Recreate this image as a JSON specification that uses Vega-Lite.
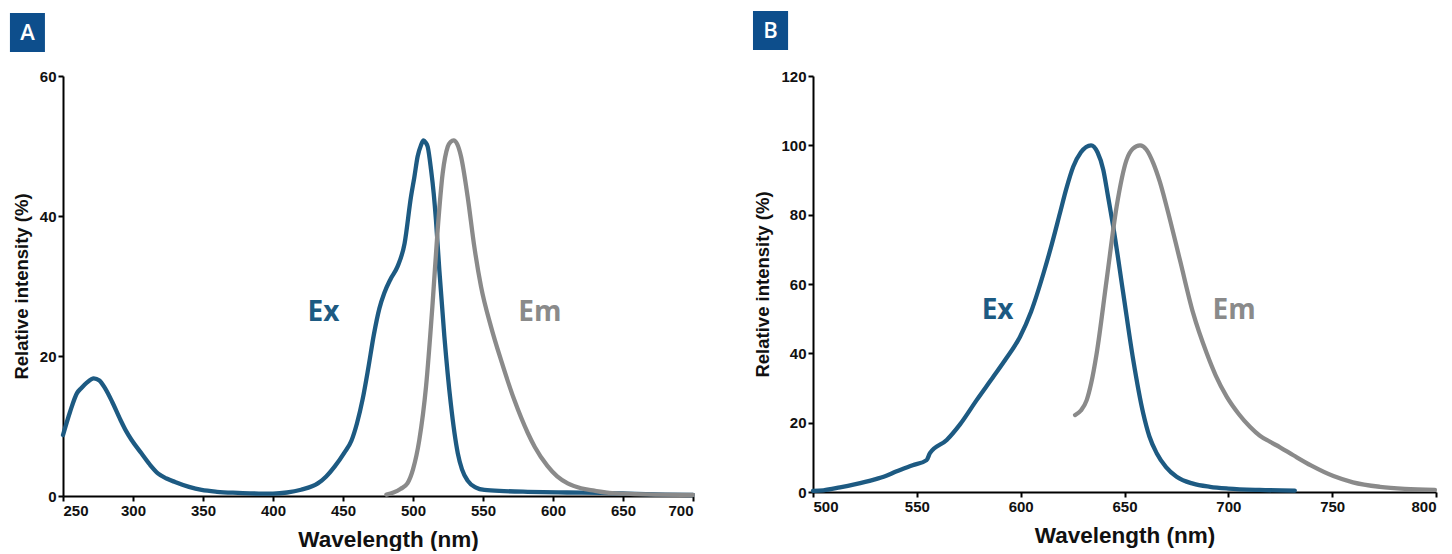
{
  "$schema": "https://vega.github.io/schema/vega-lite/v6.json",
  "background": "white",
  "padding": {"left": 9, "top": 11, "right": 5, "bottom": 0},
  "spacing": 56,
  "config": {
    "view": {"stroke": null},
    "axis": {
      "grid": false,
      "domainColor": "#000000",
      "domainWidth": 2,
      "tickColor": "#000000",
      "tickWidth": 2,
      "tickSize": 5,
      "labelFont": "Liberation Sans",
      "labelFontWeight": "bold",
      "labelFontSize": 15,
      "labelColor": "#111111",
      "labelPadding": 2,
      "titleFont": "Liberation Sans",
      "titleFontWeight": "bold",
      "titleColor": "#111111"
    },
    "axisX": {"titleFontSize": 22.5, "titlePadding": 10},
    "axisY": {"titleFontSize": 18.5, "titlePadding": 8}
  },
  "hconcat": [
    {
      "width": 630,
      "height": 420,
      "encoding": {
        "x": {"field": "nm", "type": "quantitative", "scale": {"domain": [250, 700], "nice": false, "zero": false},
              "axis": {"title": "Wavelength (nm)", "titleX": 325, "values": [250, 300, 350, 400, 450, 500, 550, 600, 650, 700]}},
        "y": {"field": "val", "type": "quantitative", "scale": {"domain": [0, 60], "nice": false},
              "axis": {"title": "Relative intensity (%)", "values": [0, 20, 40, 60]}}
      },
      "layer": [
        {
          "data": {"values": [{"nm": 212.1, "nm2": 237.1, "val": 69, "val2": 63.43}]},
          "mark": {"type": "rect", "color": "#0d4e8c"},
          "encoding": {"x2": {"field": "nm2"}, "y2": {"field": "val2"}}
        },
        {
          "data": {"values": [{"nm": 224.6, "val": 66.2, "label": "A"}]},
          "mark": {"type": "text", "color": "#ffffff", "font": "Open Sans", "fontSize": 22, "fontWeight": 600, "align": "center", "baseline": "middle"},
          "encoding": {"text": {"field": "label"}}
        },
        {
          "data": {"values": [
            {"series":"Ex","nm":250,"val":8.7},{"series":"Ex","nm":255,"val":12},{"series":"Ex","nm":260,"val":14.7},{"series":"Ex","nm":263,"val":15.4},
            {"series":"Ex","nm":267,"val":16.2},{"series":"Ex","nm":272,"val":16.8},{"series":"Ex","nm":276,"val":16.5},{"series":"Ex","nm":280,"val":15.4},
            {"series":"Ex","nm":285,"val":13.5},{"series":"Ex","nm":291,"val":10.9},{"series":"Ex","nm":295,"val":9.3},{"series":"Ex","nm":299,"val":8.0},
            {"series":"Ex","nm":306,"val":6.1},{"series":"Ex","nm":312,"val":4.5},{"series":"Ex","nm":318,"val":3.2},{"series":"Ex","nm":324,"val":2.5},
            {"series":"Ex","nm":330,"val":2.0},{"series":"Ex","nm":340,"val":1.3},{"series":"Ex","nm":349,"val":0.86},{"series":"Ex","nm":360,"val":0.6},
            {"series":"Ex","nm":375,"val":0.45},{"series":"Ex","nm":390,"val":0.35},{"series":"Ex","nm":400,"val":0.35},{"series":"Ex","nm":410,"val":0.5},
            {"series":"Ex","nm":420,"val":0.9},{"series":"Ex","nm":432,"val":1.8},{"series":"Ex","nm":438,"val":2.8},{"series":"Ex","nm":444,"val":4.2},
            {"series":"Ex","nm":451,"val":6.2},{"series":"Ex","nm":456,"val":7.9},{"series":"Ex","nm":460,"val":10.4},{"series":"Ex","nm":464,"val":13.8},
            {"series":"Ex","nm":468,"val":18.2},{"series":"Ex","nm":472,"val":23},{"series":"Ex","nm":476,"val":26.8},{"series":"Ex","nm":479.5,"val":29.0},
            {"series":"Ex","nm":484,"val":31},{"series":"Ex","nm":489,"val":32.8},{"series":"Ex","nm":494,"val":36.1},{"series":"Ex","nm":498.6,"val":42.8},
            {"series":"Ex","nm":501,"val":45.6},{"series":"Ex","nm":503.3,"val":48.5},{"series":"Ex","nm":505.7,"val":50.1},{"series":"Ex","nm":507.5,"val":50.8},
            {"series":"Ex","nm":509,"val":50.5},{"series":"Ex","nm":510.5,"val":49.9},{"series":"Ex","nm":512.9,"val":46.6},{"series":"Ex","nm":514.8,"val":43.2},
            {"series":"Ex","nm":516.4,"val":39.4},{"series":"Ex","nm":518.8,"val":32.3},{"series":"Ex","nm":522.4,"val":22.8},{"series":"Ex","nm":527,"val":13.2},
            {"series":"Ex","nm":532,"val":6.1},{"series":"Ex","nm":535,"val":3.8},{"series":"Ex","nm":539,"val":2.2},{"series":"Ex","nm":545,"val":1.2},
            {"series":"Ex","nm":551,"val":0.86},{"series":"Ex","nm":565,"val":0.7},{"series":"Ex","nm":582,"val":0.6},{"series":"Ex","nm":610,"val":0.5},
            {"series":"Ex","nm":634,"val":0.45},{"series":"Ex","nm":660,"val":0.3},{"series":"Ex","nm":680,"val":0.2},{"series":"Ex","nm":700,"val":0.14},
            {"series":"Em","nm":481,"val":0.2},{"series":"Em","nm":486,"val":0.5},{"series":"Em","nm":491,"val":1.0},{"series":"Em","nm":496,"val":1.8},
            {"series":"Em","nm":500,"val":3.8},{"series":"Em","nm":504.5,"val":8},{"series":"Em","nm":509.3,"val":15.6},{"series":"Em","nm":514,"val":27.5},
            {"series":"Em","nm":517.6,"val":38},{"series":"Em","nm":521.2,"val":46.1},{"series":"Em","nm":524.8,"val":49.9},{"series":"Em","nm":527,"val":50.6},
            {"series":"Em","nm":529,"val":50.8},{"series":"Em","nm":531.5,"val":50.3},{"series":"Em","nm":534.3,"val":48.5},{"series":"Em","nm":539,"val":42.8},
            {"series":"Em","nm":543.8,"val":35.6},{"series":"Em","nm":548.6,"val":29.9},{"series":"Em","nm":555.7,"val":24.2},{"series":"Em","nm":562.9,"val":19.4},
            {"series":"Em","nm":572.4,"val":13.7},{"series":"Em","nm":582,"val":9.0},{"series":"Em","nm":587,"val":7.0},{"series":"Em","nm":596,"val":4.3},
            {"series":"Em","nm":603,"val":2.8},{"series":"Em","nm":610.5,"val":1.8},{"series":"Em","nm":620,"val":1.1},{"series":"Em","nm":629.5,"val":0.76},
            {"series":"Em","nm":640,"val":0.45},{"series":"Em","nm":655,"val":0.3},{"series":"Em","nm":675,"val":0.2},{"series":"Em","nm":700,"val":0.14}
          ]},
          "mark": {"type": "line", "strokeWidth": 4.3, "strokeCap": "round", "strokeJoin": "round", "interpolate": "monotone"},
          "encoding": {
            "color": {"field": "series", "type": "nominal", "scale": {"domain": ["Ex", "Em"], "range": ["#1d5a82", "#8a8a8a"]}, "legend": null}
          }
        },
        {
          "data": {"values": [
            {"series": "Ex", "nm": 436.1, "val": 26.1, "label": "Ex"},
            {"series": "Em", "nm": 590.6, "val": 26.1, "label": "Em"}
          ]},
          "mark": {"type": "text", "font": "Open Sans", "fontSize": 28, "fontWeight": "bold", "align": "center", "baseline": "middle"},
          "encoding": {
            "text": {"field": "label"},
            "color": {"field": "series", "type": "nominal", "scale": {"domain": ["Ex", "Em"], "range": ["#1d5a82", "#8a8a8a"]}, "legend": null}
          }
        }
      ]
    },
    {
      "width": 623,
      "height": 416,
      "encoding": {
        "x": {"field": "nm", "type": "quantitative", "scale": {"domain": [500, 800], "nice": false, "zero": false},
              "axis": {"title": "Wavelength (nm)", "values": [500, 550, 600, 650, 700, 750, 800]}},
        "y": {"field": "val", "type": "quantitative", "scale": {"domain": [0, 120], "nice": false},
              "axis": {"title": "Relative intensity (%)", "values": [0, 20, 40, 60, 80, 100, 120]}}
      },
      "layer": [
        {
          "data": {"values": [{"nm": 471.1, "nm2": 488, "val": 138.75, "val2": 127.5}]},
          "mark": {"type": "rect", "color": "#0d4e8c"},
          "encoding": {"x2": {"field": "nm2"}, "y2": {"field": "val2"}}
        },
        {
          "data": {"values": [{"nm": 479.5, "val": 133.1, "label": "B"}]},
          "mark": {"type": "text", "color": "#ffffff", "font": "Open Sans", "fontSize": 22, "fontWeight": 600, "align": "center", "baseline": "middle"},
          "encoding": {"text": {"field": "label"}}
        },
        {
          "data": {"values": [
            {"series":"Ex","nm":500,"val":0.3},{"series":"Ex","nm":505,"val":0.5},{"series":"Ex","nm":513,"val":1.35},{"series":"Ex","nm":520,"val":2.2},
            {"series":"Ex","nm":529,"val":3.5},{"series":"Ex","nm":535,"val":4.6},{"series":"Ex","nm":540,"val":5.9},{"series":"Ex","nm":548,"val":7.7},
            {"series":"Ex","nm":554.7,"val":9.2},{"series":"Ex","nm":556.3,"val":11.2},{"series":"Ex","nm":564.4,"val":15},{"series":"Ex","nm":570.8,"val":19.5},
            {"series":"Ex","nm":578.8,"val":26.5},{"series":"Ex","nm":586.9,"val":33.3},{"series":"Ex","nm":593,"val":38.5},{"series":"Ex","nm":599.7,"val":44.8},
            {"series":"Ex","nm":605,"val":52},{"series":"Ex","nm":611,"val":63.1},{"series":"Ex","nm":615,"val":71.5},{"series":"Ex","nm":618.9,"val":80.4},
            {"series":"Ex","nm":622,"val":87.5},{"series":"Ex","nm":625.3,"val":93.8},{"series":"Ex","nm":629,"val":98},{"series":"Ex","nm":633.9,"val":100},
            {"series":"Ex","nm":637,"val":98},{"series":"Ex","nm":639.8,"val":92.9},{"series":"Ex","nm":642,"val":85.5},{"series":"Ex","nm":644.6,"val":76.5},
            {"series":"Ex","nm":649.4,"val":57.3},{"series":"Ex","nm":654.2,"val":38.1},{"series":"Ex","nm":659,"val":22.7},{"series":"Ex","nm":662,"val":16},
            {"series":"Ex","nm":665.5,"val":11.2},{"series":"Ex","nm":670,"val":7.2},{"series":"Ex","nm":675.1,"val":4.4},{"series":"Ex","nm":683,"val":2.4},
            {"series":"Ex","nm":691.2,"val":1.5},{"series":"Ex","nm":700,"val":1.0},{"series":"Ex","nm":715,"val":0.6},{"series":"Ex","nm":732,"val":0.4},
            {"series":"Em","nm":626.2,"val":22.2},{"series":"Em","nm":629,"val":23.5},{"series":"Em","nm":631.8,"val":26.5},{"series":"Em","nm":634,"val":31.5},
            {"series":"Em","nm":636.6,"val":40},{"series":"Em","nm":641.4,"val":61.2},{"series":"Em","nm":646.2,"val":82.3},{"series":"Em","nm":651,"val":95.8},
            {"series":"Em","nm":654,"val":99},{"series":"Em","nm":657.5,"val":100},{"series":"Em","nm":660.5,"val":98.8},{"series":"Em","nm":663.9,"val":94.8},
            {"series":"Em","nm":667,"val":89.5},{"series":"Em","nm":670.3,"val":82.3},{"series":"Em","nm":676.7,"val":66.9},{"series":"Em","nm":683.1,"val":51.5},
            {"series":"Em","nm":689.6,"val":40},{"series":"Em","nm":694,"val":33.5},{"series":"Em","nm":699.2,"val":27.5},{"series":"Em","nm":705,"val":22.5},
            {"series":"Em","nm":710.4,"val":18.8},{"series":"Em","nm":715.2,"val":16.2},{"series":"Em","nm":720,"val":14.5},{"series":"Em","nm":724.9,"val":12.9},
            {"series":"Em","nm":731.3,"val":10.6},{"series":"Em","nm":740,"val":7.6},{"series":"Em","nm":750.6,"val":4.6},{"series":"Em","nm":760,"val":2.8},
            {"series":"Em","nm":773,"val":1.5},{"series":"Em","nm":785,"val":0.9},{"series":"Em","nm":799.5,"val":0.6}
          ]},
          "mark": {"type": "line", "strokeWidth": 4.3, "strokeCap": "round", "strokeJoin": "round", "interpolate": "monotone"},
          "encoding": {
            "color": {"field": "series", "type": "nominal", "scale": {"domain": ["Ex", "Em"], "range": ["#1d5a82", "#8a8a8a"]}, "legend": null}
          }
        },
        {
          "data": {"values": [
            {"series": "Ex", "nm": 588.9, "val": 52.3, "label": "Ex"},
            {"series": "Em", "nm": 702.8, "val": 52.3, "label": "Em"}
          ]},
          "mark": {"type": "text", "font": "Open Sans", "fontSize": 28, "fontWeight": "bold", "align": "center", "baseline": "middle"},
          "encoding": {
            "text": {"field": "label"},
            "color": {"field": "series", "type": "nominal", "scale": {"domain": ["Ex", "Em"], "range": ["#1d5a82", "#8a8a8a"]}, "legend": null}
          }
        }
      ]
    }
  ]
}
